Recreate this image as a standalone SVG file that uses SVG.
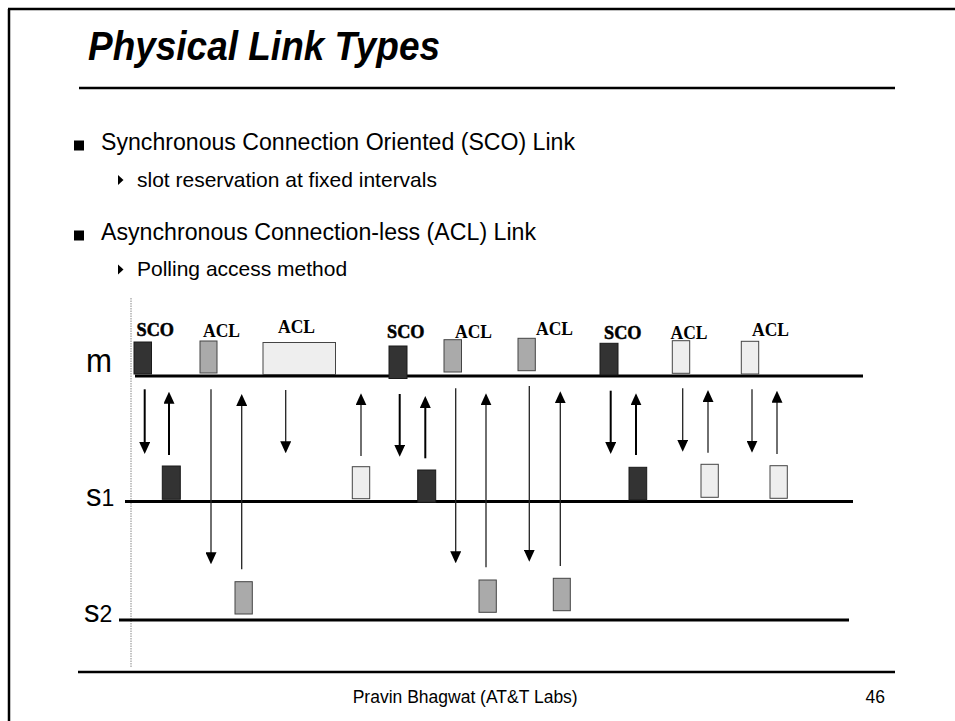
<svg xmlns="http://www.w3.org/2000/svg" width="955" height="721" viewBox="0 0 955 721">
  <style>
    .rule { stroke: #000; stroke-width: 2.5; fill: none; }
    .axis { stroke: #000; stroke-width: 3; fill: none; }
    .sans { font-family: "Liberation Sans", Arial, sans-serif; fill: #000; }
    .slot-lbl { font-family: "Liberation Serif", "Times New Roman", serif; font-weight: bold; font-size: 18px; fill: #000; }
    .sco-lbl { stroke: #000; stroke-width: 0.5; }
    .dark { fill: #333; stroke: #1a1a1a; stroke-width: 1; }
    .gray { fill: #aaa; stroke: #444; stroke-width: 1; }
    .light { fill: #eee; stroke: #444; stroke-width: 1; }
    .thick { stroke: #000; stroke-width: 2; fill: none; marker-end: url(#head); }
    .thin { stroke: #222; stroke-width: 1.3; fill: none; marker-end: url(#head); }
  </style>
  <defs>
    <marker id="head" markerUnits="userSpaceOnUse" markerWidth="12" markerHeight="11" refX="1" refY="5.5" orient="auto">
      <path d="M0,0 L12,5.5 L0,11 z" fill="#000"/>
    </marker>
  </defs>

  <rect width="955" height="721" fill="#fff"/>

  <!-- slide frame -->
  <line class="rule" x1="8" y1="9" x2="955" y2="9"/>
  <line class="rule" x1="9" y1="9" x2="9" y2="721"/>

  <!-- title -->
  <text class="sans" x="88" y="60" font-size="41" font-weight="bold" font-style="italic" textLength="352" lengthAdjust="spacingAndGlyphs">Physical Link Types</text>
  <line class="rule" x1="79" y1="88" x2="895" y2="88"/>

  <!-- bullet list -->
  <rect x="74" y="140.5" width="10" height="10" fill="#000"/>
  <text class="sans" x="101" y="150" font-size="23" textLength="474" lengthAdjust="spacingAndGlyphs">Synchronous Connection Oriented (SCO) Link</text>
  <polygon points="118,175 123.5,180 118,185" fill="#000"/>
  <text class="sans" x="137" y="186.7" font-size="21">slot reservation at fixed intervals</text>
  <rect x="74" y="230.5" width="10" height="10" fill="#000"/>
  <text class="sans" x="101" y="240" font-size="23" textLength="435" lengthAdjust="spacingAndGlyphs">Asynchronous Connection-less (ACL) Link</text>
  <polygon points="118,264.5 123.5,269.5 118,274.5" fill="#000"/>
  <text class="sans" x="137" y="276" font-size="21">Polling access method</text>

  <!-- time origin -->
  <line x1="131" y1="298" x2="131" y2="667" stroke="#888" stroke-width="1" stroke-dasharray="1.5,1"/>

  <!-- device timelines -->
  <g id="timeline-m">
    <text class="sans" x="86" y="372" font-size="34" textLength="26" lengthAdjust="spacingAndGlyphs">m</text>
    <line class="axis" x1="135" y1="376" x2="863" y2="376"/>
  </g>
  <g id="timeline-s1">
    <text class="sans" x="86" y="506"><tspan font-size="31">s</tspan><tspan font-size="23">1</tspan></text>
    <line class="axis" x1="125" y1="501.5" x2="853" y2="501.5"/>
  </g>
  <g id="timeline-s2">
    <text class="sans" x="84" y="621.5"><tspan font-size="31">s</tspan><tspan font-size="23">2</tspan></text>
    <line class="axis" x1="119" y1="620" x2="849" y2="620"/>
  </g>

  <!-- master slots -->
  <g id="m-sco-1"><rect class="dark" x="134" y="342" width="17.5" height="32"/><text class="slot-lbl sco-lbl" x="136.5" y="335.7" textLength="37.5" lengthAdjust="spacingAndGlyphs">SCO</text></g>
  <g id="m-acl-1"><rect class="gray" x="200" y="341" width="17" height="32"/><text class="slot-lbl" x="203" y="337.3" textLength="37" lengthAdjust="spacingAndGlyphs">ACL</text></g>
  <g id="m-acl-2"><rect class="light" x="263" y="342.5" width="72.5" height="32" stroke="#333"/><text class="slot-lbl" x="278" y="333.3" textLength="37" lengthAdjust="spacingAndGlyphs">ACL</text></g>
  <g id="m-sco-2"><rect class="dark" x="389" y="346" width="18" height="32.5"/><text class="slot-lbl sco-lbl" x="387" y="337.7" textLength="37.5" lengthAdjust="spacingAndGlyphs">SCO</text></g>
  <g id="m-acl-3"><rect class="gray" x="444" y="339.7" width="17.5" height="32.3"/><text class="slot-lbl" x="455" y="337.7" textLength="37" lengthAdjust="spacingAndGlyphs">ACL</text></g>
  <g id="m-acl-4"><rect class="gray" x="518" y="338.3" width="17.3" height="32.4"/><text class="slot-lbl" x="536" y="335" textLength="37" lengthAdjust="spacingAndGlyphs">ACL</text></g>
  <g id="m-sco-3"><rect class="dark" x="600" y="343.3" width="18" height="31.7"/><text class="slot-lbl sco-lbl" x="604" y="339" textLength="37.5" lengthAdjust="spacingAndGlyphs">SCO</text></g>
  <g id="m-acl-5"><rect class="light" x="672.3" y="340.7" width="17.4" height="32.6"/><text class="slot-lbl" x="670.5" y="339" textLength="37" lengthAdjust="spacingAndGlyphs">ACL</text></g>
  <g id="m-acl-6"><rect class="light" x="741.3" y="341.3" width="17.4" height="32.7"/><text class="slot-lbl" x="752" y="335.7" textLength="37" lengthAdjust="spacingAndGlyphs">ACL</text></g>

  <!-- slave 1 slots -->
  <g id="s1-sco-1"><rect class="dark" x="162.3" y="466" width="18" height="33.3"/></g>
  <g id="s1-acl-1"><rect class="light" x="352.3" y="466.7" width="17.4" height="32"/></g>
  <g id="s1-sco-2"><rect class="dark" x="417.7" y="470" width="18" height="32.3"/></g>
  <g id="s1-sco-3"><rect class="dark" x="629" y="467.3" width="17.7" height="32.7"/></g>
  <g id="s1-acl-2"><rect class="light" x="701" y="464.3" width="17.3" height="33"/></g>
  <g id="s1-acl-3"><rect class="light" x="770" y="465.7" width="17.3" height="32.6"/></g>

  <!-- slave 2 slots -->
  <g id="s2-acl-1"><rect class="gray" x="235" y="581.7" width="17.3" height="32.3"/></g>
  <g id="s2-acl-2"><rect class="gray" x="479" y="580" width="17.3" height="32.3"/></g>
  <g id="s2-acl-3"><rect class="gray" x="553.3" y="578.3" width="17" height="32.4"/></g>

  <!-- transmissions: line ends 11px short of each arrow tip -->
  <g id="connectors">
    <line class="thick" x1="144.7" y1="389.3" x2="144.7" y2="443"/>
    <line class="thick" x1="169" y1="455" x2="169" y2="402.7"/>
    <line class="thin" x1="211" y1="389.3" x2="211" y2="553.3"/>
    <line class="thin" x1="241.7" y1="569.3" x2="241.7" y2="405"/>
    <line class="thin" x1="285.7" y1="390" x2="285.7" y2="442.3"/>
    <line class="thin" x1="361" y1="456" x2="361" y2="404.3"/>
    <line class="thick" x1="399.7" y1="394" x2="399.7" y2="445.7"/>
    <line class="thick" x1="425.3" y1="458.3" x2="425.3" y2="407"/>
    <line class="thin" x1="455.7" y1="388.3" x2="455.7" y2="552.3"/>
    <line class="thin" x1="486" y1="567.3" x2="486" y2="404.3"/>
    <line class="thin" x1="529.3" y1="386" x2="529.3" y2="550.7"/>
    <line class="thin" x1="560.3" y1="566" x2="560.3" y2="402.3"/>
    <line class="thick" x1="610.7" y1="390.7" x2="610.7" y2="443"/>
    <line class="thick" x1="636" y1="455" x2="636" y2="404.3"/>
    <line class="thin" x1="682.7" y1="388.3" x2="682.7" y2="440.7"/>
    <line class="thin" x1="708" y1="452.7" x2="708" y2="401"/>
    <line class="thin" x1="752" y1="389.3" x2="752" y2="441.7"/>
    <line class="thin" x1="777" y1="454" x2="777" y2="401.7"/>
  </g>

  <!-- footer -->
  <line class="rule" x1="78" y1="672" x2="895" y2="672"/>
  <text class="sans" x="352.7" y="702.7" font-size="17.5">Pravin Bhagwat (AT&amp;T Labs)</text>
  <text class="sans" x="865.5" y="702.7" font-size="17.5">46</text>
</svg>
